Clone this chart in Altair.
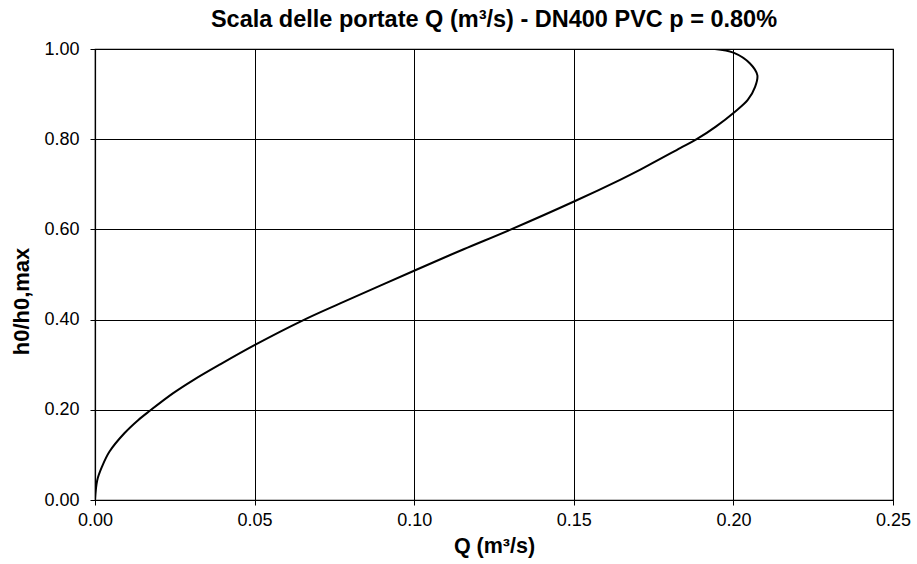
import altair as alt
import pandas as pd

# Rating curve of a DN400 PVC sewer pipe at slope 0.80%: discharge vs relative depth
discharge_m3s = [
    0.0000, 0.0007, 0.0022, 0.0045, 0.0092, 0.0135, 0.0172, 0.0245, 0.0308,
    0.0390, 0.0501, 0.0653, 0.0768, 0.1005, 0.1155, 0.1300, 0.1504, 0.1645,
    0.1707, 0.1833, 0.1885, 0.1945, 0.2005, 0.2045, 0.2068, 0.2075, 0.2052,
    0.2000, 0.1942,
]
relative_depth = [
    0.000, 0.044, 0.074, 0.107, 0.148, 0.177, 0.198, 0.237, 0.266,
    0.300, 0.344, 0.399, 0.436, 0.510, 0.556, 0.599, 0.663, 0.710,
    0.732, 0.780, 0.800, 0.828, 0.861, 0.887, 0.916, 0.942, 0.968,
    0.992, 1.000,
]
x_ticks = [0.00, 0.05, 0.10, 0.15, 0.20, 0.25]
y_ticks = [0.00, 0.20, 0.40, 0.60, 0.80, 1.00]

df = pd.DataFrame({"Q": discharge_m3s, "h": relative_depth})

FONT = "Liberation Sans"

chart = (
    alt.Chart(df)
    .mark_line(color="black", strokeWidth=2, interpolate="catmull-rom", clip=True)
    .encode(
        x=alt.X(
            "Q:Q",
            scale=alt.Scale(domain=[0, 0.25], nice=False, zero=False),
            axis=alt.Axis(
                values=x_ticks,
                format=".2f",
                title="Q (m³/s)",
                titleFontSize=21.5,
                titleFontWeight="bold",
                titlePadding=6,
                labelFontSize=18,
                labelPadding=6,
                labelFlush=False,
                tickSize=5,
            ),
        ),
        y=alt.Y(
            "h:Q",
            scale=alt.Scale(domain=[0, 1], nice=False, zero=False),
            axis=alt.Axis(
                values=y_ticks,
                format=".2f",
                title="h0/h0,max",
                titleFontSize=22,
                titleFontWeight="bold",
                titlePadding=10,
                titleY=252,
                titleAlign="center",
                labelFontSize=18,
                labelPadding=11,
                labelFlush=False,
                tickSize=5,
            ),
        ),
        order="h:Q",
    )
    .properties(
        width=798,
        height=451,
        title=alt.TitleParams(
            "Scala delle portate Q (m³/s) - DN400 PVC p = 0.80%",
            fontSize=23.5,
            fontWeight="bold",
            font=FONT,
            color="black",
            offset=9,
        ),
        autosize=alt.AutoSizeParams(type="none"),
        padding={"left": 95, "top": 49, "right": 24, "bottom": 64},
    )
    .configure_view(stroke="black", strokeWidth=1.2)
    .configure_axis(
        labelFont=FONT,
        titleFont=FONT,
        labelColor="black",
        titleColor="black",
        domainColor="black",
        tickColor="black",
        gridColor="black",
        gridOpacity=1,
        gridWidth=1,
        domainWidth=1.2,
    )
)

chart.save("out.html", embed_options={"renderer": "svg", "actions": False})
